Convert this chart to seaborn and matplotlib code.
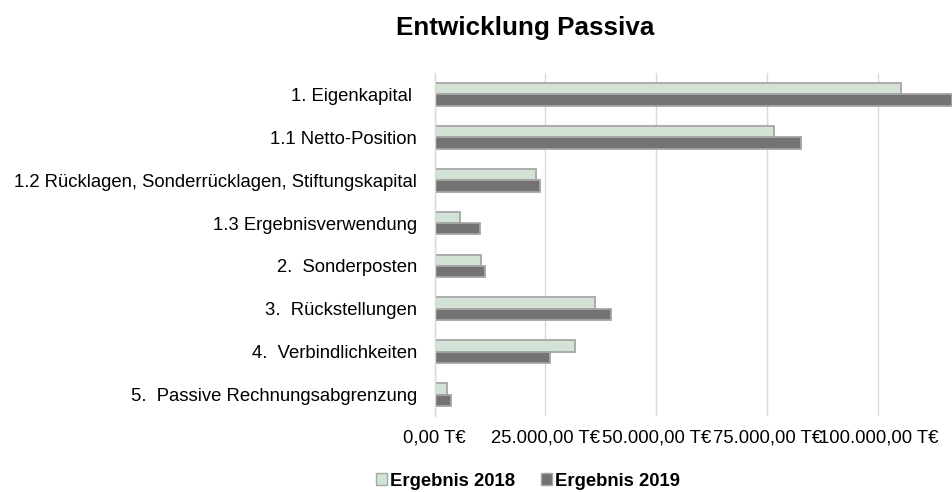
import pandas as pd
import matplotlib.pyplot as plt
import seaborn as sns
from matplotlib.patches import Patch

# data (T€)
kategorien = [
    "1. Eigenkapital ",
    "1.1 Netto-Position",
    "1.2 Rücklagen, Sonderrücklagen, Stiftungskapital",
    "1.3 Ergebnisverwendung",
    "2.  Sonderposten",
    "3.  Rückstellungen",
    "4.  Verbindlichkeiten",
    "5.  Passive Rechnungsabgrenzung",
]
ergebnis_2018 = [105000, 76450, 22800, 5750, 10550, 36100, 31600, 2900]
ergebnis_2019 = [116550, 82550, 23750, 10250, 11450, 39700, 26100, 3700]
jahre = ["Ergebnis 2018", "Ergebnis 2019"]
xticks = [0, 25000, 50000, 75000, 100000]
xtick_labels = ["0,00 T€", "25.000,00 T€", "50.000,00 T€", "75.000,00 T€", "100.000,00 T€"]

farben = ["#cfe5d3", "#767171"]
rand = "#a6a6a6"
fs = 13.3

df = pd.DataFrame({
    "Kategorie": kategorien * 2,
    "Wert": ergebnis_2018 + ergebnis_2019,
    "Jahr": [jahre[0]] * len(kategorien) + [jahre[1]] * len(kategorien),
})

sns.set_style("white")
plt.rcParams["font.family"] = ["Liberation Sans", "DejaVu Sans"]
plt.rcParams["text.color"] = "black"
plt.rcParams["xtick.color"] = "black"
plt.rcParams["ytick.color"] = "black"

fig = plt.figure(figsize=(9.52, 4.92), dpi=100)
ax = fig.add_axes([434.5 / 952, 1 - 416 / 492, 1 - 434.5 / 952, (416 - 73) / 492])

sns.barplot(data=df, y="Kategorie", x="Wert", hue="Jahr", palette=farben,
            edgecolor=rand, linewidth=1.3, width=0.53, orient="h", ax=ax)

ax.set_xlim(0, 116600)
ax.set_xticks(xticks)
ax.set_xticklabels(xtick_labels, fontsize=fs)
ax.tick_params(axis="y", labelsize=fs, length=0, pad=12.5)
ax.tick_params(axis="x", length=0, pad=10)
ax.set_xlabel("")
ax.set_ylabel("")
ax.grid(axis="x", color="#d9d9d9", linewidth=1)
ax.set_axisbelow(True)
for s in ["top", "right", "bottom"]:
    ax.spines[s].set_visible(False)
ax.spines["left"].set_color("#d9d9d9")
ax.spines["left"].set_linewidth(1)

ax.get_legend().remove()
handles = [Patch(facecolor=farben[i], edgecolor=rand, linewidth=1) for i in range(2)]
fig.legend(handles, jahre, loc="center", bbox_to_anchor=(528 / 952, 1 - 481 / 492),
           ncol=2, frameon=False, prop={"weight": "bold", "size": fs},
           handlelength=0.55, handleheight=0.55, handletextpad=0.16, columnspacing=1.45)

fig.text(525 / 952, 1 - 28 / 492, "Entwicklung Passiva", ha="center", va="center",
         fontsize=18.7, fontweight="bold")

fig.savefig("out.png", dpi=100)
